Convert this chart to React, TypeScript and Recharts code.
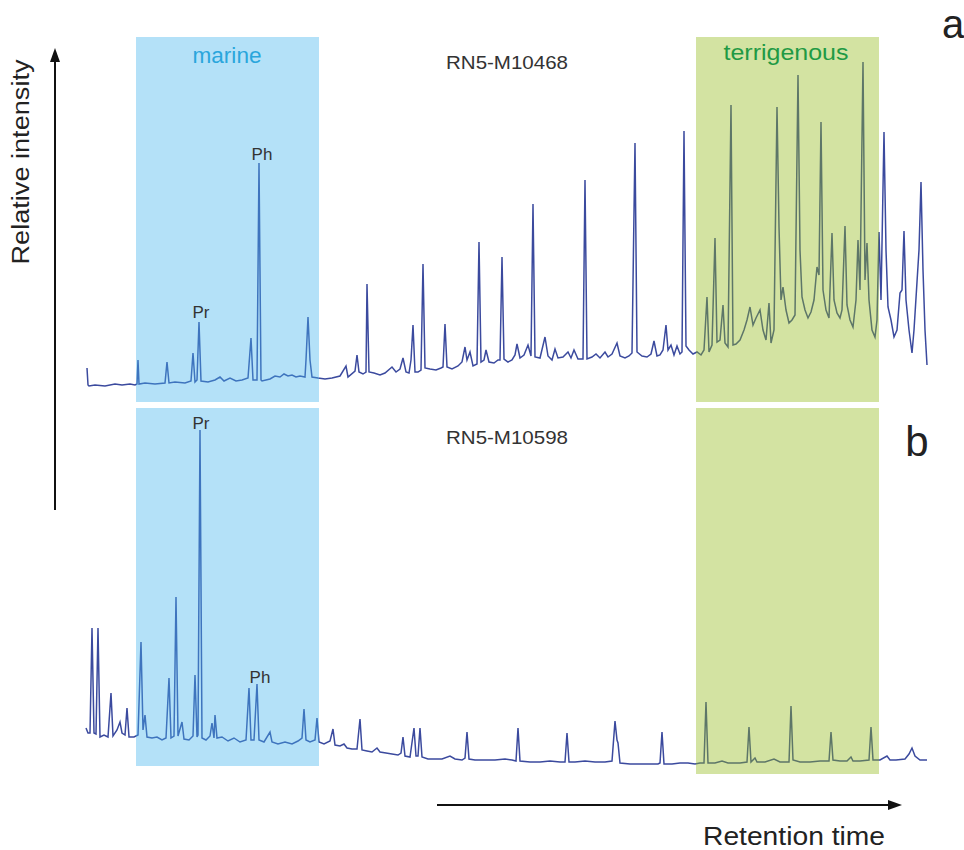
import React from 'react';
import { LineChart, Line, XAxis, YAxis, ReferenceArea } from 'recharts';

// Panel a (RN5-M10468): retention time (figure units) and relative intensity
const rtA = [87,88,89,95,105,115,122,130,135,137,138,139,145,155,165,167,169,175,185,191,193,195,197,199,201,208,215,220,224,230,236,242,248,251,253,257,259,261,262,270,275,280,284,288,292,296,300,305,306,308,310,312,318,325,332,340,346,348,355,357,359,363,366,367,369,374,380,385,392,396,400,403,406,409,411,413,415,418,421,423,425,430,436,441,443,445,447,452,458,462,465,467,470,473,477,479,481,484,486,489,494,498,500,502,504,508,512,515,517,520,524,528,531,533,535,540,545,548,552,555,558,563,568,571,574,578,583,585,587,592,596,600,605,608,612,617,620,625,629,632,635,637,642,647,651,654,657,660,663,666,668,671,674,677,680,682,684,686,689,693,697,701,704,707,709,712,715,717,720,723,725,728,731,733,736,740,744,747,750,753,756,760,763,766,769,771,774,777,779,781,783,786,789,792,795,798,800,802,805,808,811,814,817,819,821,823,826,829,832,834,837,840,842,845,847,850,853,856,858,860,863,865,867,869,872,875,877,879,881,884,886,888,891,894,897,900,902,904,906,909,912,914,917,919,921,923,925,927];
const intA = [22,5,4,5,4,6,5,6,5,6,30,6,7,6,7,28,7,8,7,9,37,8,10,68,9,8,10,13,9,12,9,10,12,52,10,10,227,10,9,11,14,13,16,14,15,13,14,13,30,73,30,13,12,11,12,14,24,13,19,35,18,16,18,106,18,17,15,17,23,18,21,32,18,17,30,65,18,18,20,126,22,21,20,22,23,66,23,21,24,28,43,30,38,24,26,148,28,30,40,28,27,30,30,133,31,28,30,35,46,32,35,45,34,186,33,32,53,34,30,41,32,33,38,32,40,31,31,210,31,33,36,32,38,33,36,47,34,32,34,37,247,38,34,33,36,49,34,35,40,65,40,45,35,44,36,38,259,44,40,36,38,35,40,93,38,45,152,48,50,85,47,43,285,45,46,50,60,70,83,65,72,80,60,50,87,47,60,283,163,90,103,80,67,70,75,315,140,93,80,72,78,90,123,115,268,100,80,72,157,90,77,72,80,164,85,70,63,90,150,100,328,110,147,90,60,53,70,158,90,258,140,83,70,53,60,97,100,159,90,60,37,60,108,140,208,120,60,25];

// Panel b (RN5-M10598)
const rtB = [86,88,90,92,94,96,98,100,104,108,111,113,117,120,122,125,127,129,134,138,141,143,145,147,152,157,162,166,169,171,174,176,178,182,184,189,193,195,197,198,200,202,206,210,212,214,215,217,222,228,234,240,246,249,251,254,257,259,264,270,272,278,285,292,298,302,304,306,310,315,317,319,324,330,333,335,340,344,347,352,357,360,362,367,372,377,380,386,392,398,401,403,405,410,414,416,418,420,422,428,435,442,450,455,462,465,467,469,475,485,495,505,512,516,518,520,530,540,550,560,565,567,569,575,585,595,605,612,615,617,618,620,630,640,650,658,660,662,664,672,680,688,695,700,704,706,708,715,722,728,740,747,749,751,755,757,765,774,780,789,791,793,800,810,820,829,831,833,840,847,851,853,860,869,871,873,880,887,890,896,905,909,912,915,920,927];
const intB = [42,37,37,142,37,36,142,33,35,33,77,34,40,48,37,35,62,33,33,35,128,40,55,33,32,33,30,32,92,32,34,173,34,48,31,30,34,95,33,35,340,32,30,34,47,32,55,32,33,29,32,28,30,82,30,30,86,30,28,38,28,26,28,26,29,32,61,30,28,30,52,28,26,29,41,25,24,26,22,21,21,51,20,19,18,22,18,17,16,15,17,33,14,13,42,14,14,42,13,11,11,11,14,11,10,12,38,11,10,10,10,11,10,9,42,9,8,8,9,8,8,37,8,8,9,8,8,9,49,30,27,7,6,6,6,6,7,38,6,6,7,7,6,7,7,68,7,7,9,7,7,8,43,8,12,8,8,11,8,8,64,10,8,8,9,9,38,10,9,9,13,9,9,10,43,10,10,14,10,10,11,16,22,14,10,10];

const dataA = rtA.map((t, i) => ({ t, v: intA[i] }));
const dataB = rtB.map((t, i) => ({ t, v: intB[i] }));

const marineRange = [136, 319];
const terrRange = [696, 879];

const LINE = '#3b4a9e';
const FONT = '"Liberation Sans", Arial, sans-serif';

export default function App() {
  return (
    <div style={{ position: 'absolute', left: 0, top: 0, width: 964, height: 850, background: '#fff', fontFamily: FONT }}>
      <div style={{ position: 'absolute', left: 0, top: 0 }}>
        <LineChart width={964} height={402} data={dataA} margin={{ top: 0, right: 0, bottom: 0, left: 0 }}>
          <XAxis type="number" dataKey="t" domain={[0, 964]} hide />
          <YAxis type="number" domain={[-12, 390]} hide allowDataOverflow />
          <Line type="linear" dataKey="v" stroke={LINE} strokeWidth={1.5} dot={false} activeDot={false} isAnimationActive={false} />
          <ReferenceArea x1={marineRange[0]} x2={marineRange[1]} y1={-12} y2={353} fill="#43b4ed" fillOpacity={0.4} stroke="none" zIndex={600} />
          <ReferenceArea x1={terrRange[0]} x2={terrRange[1]} y1={-12} y2={353} fill="#91b916" fillOpacity={0.4} stroke="none" zIndex={600} />
        </LineChart>
      </div>
      <div style={{ position: 'absolute', left: 0, top: 408 }}>
        <LineChart width={964} height={366} data={dataB} margin={{ top: 0, right: 0, bottom: 0, left: 0 }}>
          <XAxis type="number" dataKey="t" domain={[0, 964]} hide />
          <YAxis type="number" domain={[-4, 362]} hide allowDataOverflow />
          <Line type="linear" dataKey="v" stroke={LINE} strokeWidth={1.5} dot={false} activeDot={false} isAnimationActive={false} />
          <ReferenceArea x1={marineRange[0]} x2={marineRange[1]} y1={4} y2={362} fill="#43b4ed" fillOpacity={0.4} stroke="none" zIndex={600} />
          <ReferenceArea x1={terrRange[0]} x2={terrRange[1]} y1={-4} y2={362} fill="#91b916" fillOpacity={0.4} stroke="none" zIndex={600} />
        </LineChart>
      </div>
      <svg width={964} height={850} style={{ position: 'absolute', left: 0, top: 0, pointerEvents: 'none' }} fontFamily={FONT}>
        <line x1={55} y1={510} x2={55} y2={60} stroke="#111" strokeWidth={2} />
        <polygon points="55,48 50,62 60,62" fill="#111" />
        <line x1={437} y1={805} x2={890} y2={805} stroke="#111" strokeWidth={2} />
        <polygon points="902,805 888,800 888,810" fill="#111" />
        <text x={29} y={162} fontSize={23} fill="#222" textAnchor="middle" textLength={205} lengthAdjust="spacingAndGlyphs" transform="rotate(-90 29 162)">Relative intensity</text>
        <text x={794} y={845} fontSize={25} fill="#222" textAnchor="middle" textLength={182} lengthAdjust="spacingAndGlyphs">Retention time</text>
        <text x={227} y={63} fontSize={22} fill="#2aa6dc" textAnchor="middle" textLength={69} lengthAdjust="spacingAndGlyphs">marine</text>
        <text x={786} y={60} fontSize={22} fill="#1f9a45" textAnchor="middle" textLength={125} lengthAdjust="spacingAndGlyphs">terrigenous</text>
        <text x={507} y={69} fontSize={19} fill="#333" textAnchor="middle" textLength={122} lengthAdjust="spacingAndGlyphs">RN5-M10468</text>
        <text x={507} y={444} fontSize={19} fill="#333" textAnchor="middle" textLength={122} lengthAdjust="spacingAndGlyphs">RN5-M10598</text>
        <text x={953} y={38} fontSize={40} fill="#222" textAnchor="middle">a</text>
        <text x={917} y={456} fontSize={42} fill="#222" textAnchor="middle">b</text>
        <text x={201} y={318} fontSize={17} fill="#333" textAnchor="middle">Pr</text>
        <text x={262} y={160} fontSize={17} fill="#333" textAnchor="middle">Ph</text>
        <text x={201} y={429} fontSize={17} fill="#333" textAnchor="middle">Pr</text>
        <text x={260} y={683} fontSize={17} fill="#333" textAnchor="middle">Ph</text>
      </svg>
    </div>
  );
}
